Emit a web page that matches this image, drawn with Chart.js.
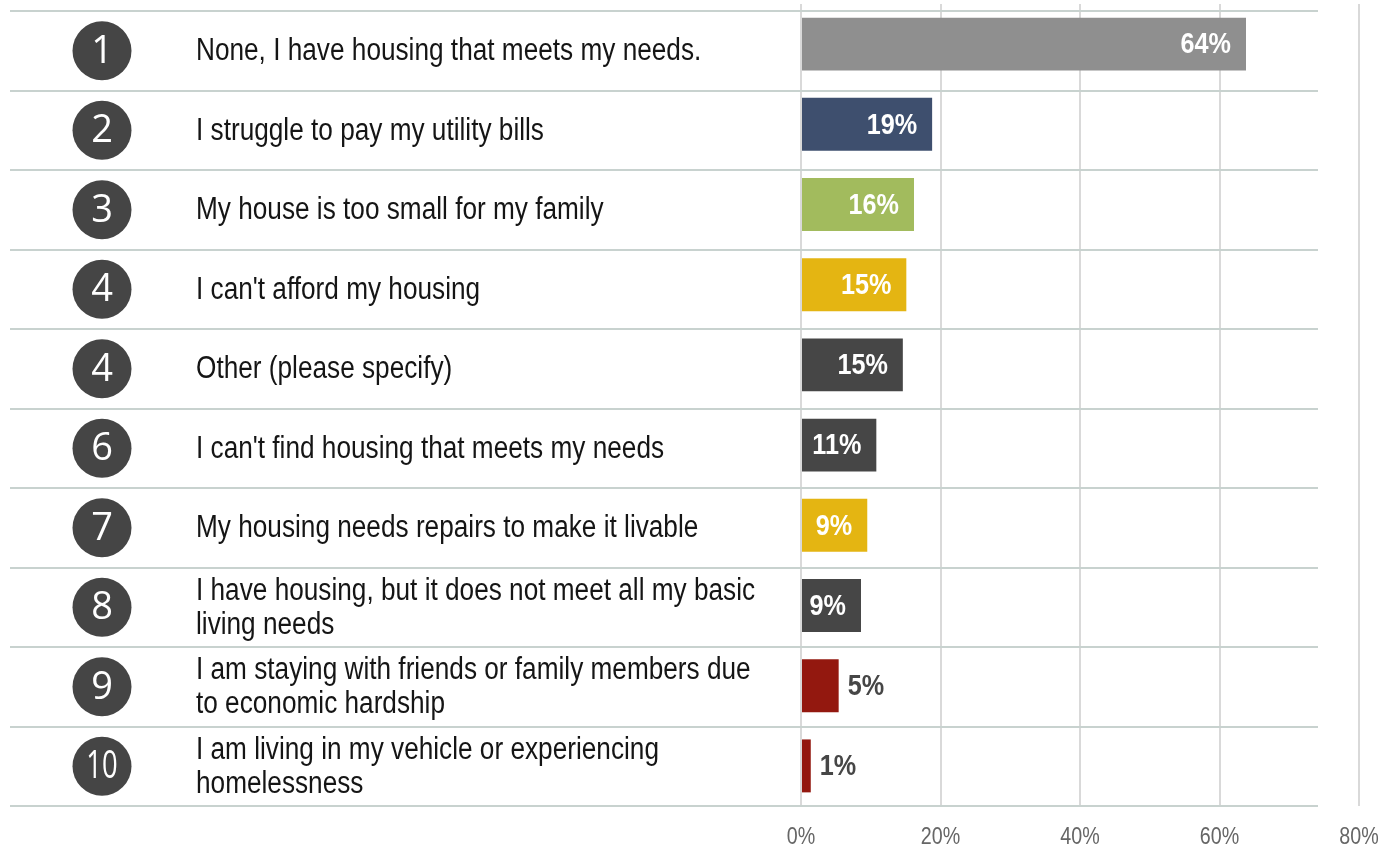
<!DOCTYPE html>
<html>
<head>
<meta charset="utf-8">
<title>Housing needs</title>
<script src="https://cdn.jsdelivr.net/npm/chart.js@4.4.0/dist/chart.umd.min.js"></script>
<style>
    html, body { margin: 0; padding: 0; background: #ffffff; }
    #wrap { width: 1380px; height: 851px; position: relative; }
</style>
</head>
<body>
<div id="wrap"><canvas id="chart"></canvas></div>
<script>
// Chart data
const ranks = ['1', '2', '3', '4', '4', '6', '7', '8', '9', '10'];
const answers = [
    ['None, I have housing that meets my needs.'],
    ['I struggle to pay my utility bills'],
    ['My house is too small for my family'],
    ["I can't afford my housing"],
    ['Other (please specify)'],
    ["I can't find housing that meets my needs"],
    ['My housing needs repairs to make it livable'],
    ['I have housing, but it does not meet all my basic', 'living needs'],
    ['I am staying with friends or family members due', 'to economic hardship'],
    ['I am living in my vehicle or experiencing', 'homelessness']
];
const shares = [63.8, 18.8, 16.2, 15.1, 14.6, 10.8, 9.5, 8.6, 5.4, 1.4];
const shareLabels = ['64%', '19%', '16%', '15%', '15%', '11%', '9%', '9%', '5%', '1%'];
const barColors = ['#8f8f8f', '#3e4f6e', '#a2bb5d', '#e4b512', '#464646',
                   '#464646', '#e4b512', '#464646', '#93180f', '#93180f'];
const xTicks = [0, 20, 40, 60, 80];

// Arial Narrow look: Liberation Sans squeezed horizontally
const SANS = '"Liberation Sans", Arial, sans-serif';

function narrowText(ctx, text, x, y, align, font, color, squeeze) {
    ctx.save();
    ctx.font = font;
    ctx.fillStyle = color;
    ctx.textAlign = align;
    ctx.textBaseline = 'middle';
    ctx.translate(x, y);
    ctx.scale(squeeze, 1);
    ctx.fillText(text, 0, 0);
    ctx.restore();
}

function narrowWidth(ctx, text, font, squeeze) {
    ctx.save();
    ctx.font = font;
    const w = ctx.measureText(text).width * squeeze;
    ctx.restore();
    return w;
}

// Draws the row separators, the rank circles, answer text, value labels and tick labels
const rowTable = {
    id: 'rowTable',
    beforeDatasetsDraw(chart) {
        const ctx = chart.ctx;
        const area = chart.chartArea;
        const top = area.top + 7;
        const step = (area.bottom - top) / answers.length;
        ctx.save();
        ctx.strokeStyle = '#c8d2cf';
        ctx.lineWidth = 2;
        for (let i = 0; i <= answers.length; i++) {
            const y = Math.round(top + i * step);
            ctx.beginPath();
            ctx.moveTo(10, y);
            ctx.lineTo(1318, y);
            ctx.stroke();
        }
        ctx.restore();
    },
    afterDatasetsDraw(chart) {
        const ctx = chart.ctx;
        const area = chart.chartArea;
        const top = area.top + 7;
        const step = (area.bottom - top) / answers.length;
        const bars = chart.getDatasetMeta(0).data;

        // value labels
        const valueFont = 'bold 30px ' + SANS;
        bars.forEach((bar, i) => {
            const text = shareLabels[i];
            const tw = narrowWidth(ctx, text, valueFont, 0.84);
            const w = bar.x - bar.base;
            if (w < tw + 16) {
                narrowText(ctx, text, bar.x + 9, bar.y + 1, 'left', valueFont, '#464646', 0.84);
            } else {
                narrowText(ctx, text, bar.x - 15, bar.y + 1, 'right', valueFont, '#ffffff', 0.84);
            }
        });

        // rank circles and answer text
        answers.forEach((lines, i) => {
            const cy = top + (i + 0.5) * step;
            ctx.save();
            ctx.fillStyle = '#454545';
            ctx.beginPath();
            ctx.arc(102, cy, 29.5, 0, Math.PI * 2);
            ctx.fill();

            ctx.fillStyle = '#ffffff';
            ctx.textAlign = 'center';
            ctx.textBaseline = 'middle';
            ctx.font = '38px "Open Sans", "Noto Sans", sans-serif';
            ctx.translate(102, cy + 1);
            if (ranks[i].length > 1) ctx.scale(0.72, 1);
            ctx.fillText(ranks[i], 0, 0);
            ctx.restore();

            const lh = 34;
            const y0 = cy - (lines.length - 1) * lh / 2;
            lines.forEach((ln, k) => {
                narrowText(ctx, ln, 196, y0 + k * lh + 1, 'left', '31px ' + SANS, '#151515', 0.845);
            });
        });

        // x tick labels
        const xs = chart.scales.x;
        xs.ticks.forEach(t => {
            narrowText(ctx, t.value + '%', xs.getPixelForValue(t.value), area.bottom + 31,
                       'center', '24px ' + SANS, '#666666', 0.82);
        });
    }
};

const ctx = document.getElementById('chart').getContext('2d');
const chart = new Chart(ctx, {
    type: 'bar',
    data: {
        labels: answers,
        datasets: [{
            data: shares,
            backgroundColor: barColors,
            borderWidth: 0,
            barPercentage: 1,
            categoryPercentage: 0.66
        }]
    },
    options: {
        indexAxis: 'y',
        responsive: true,
        maintainAspectRatio: false,
        animation: false,
        layout: {
            padding: { left: 801, right: 21, top: 4, bottom: 0 }
        },
        scales: {
            x: {
                min: xTicks[0],
                max: xTicks[xTicks.length - 1],
                afterBuildTicks(scale) {
                    scale.ticks = xTicks.map(v => ({ value: v }));
                },
                afterFit(scale) {
                    scale.height = 45;
                    scale.paddingLeft = 0;
                    scale.paddingRight = 0;
                },
                grid: {
                    color: '#d9d9d9',
                    lineWidth: 2,
                    drawTicks: false
                },
                border: { display: false },
                ticks: { display: false }
            },
            y: {
                display: false
            }
        },
        plugins: {
            legend: { display: false },
            tooltip: { enabled: false }
        }
    },
    plugins: [rowTable]
});
</script>
</body>
</html>
